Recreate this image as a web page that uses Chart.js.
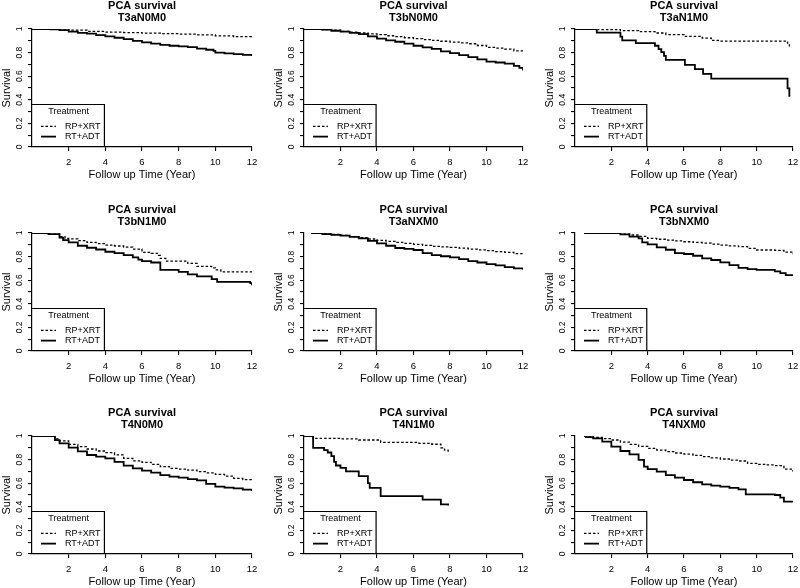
<!DOCTYPE html>
<html>
<head>
<meta charset="utf-8">
<script src="https://cdn.jsdelivr.net/npm/chart.js@4.4.0/dist/chart.umd.min.js"></script>
<style>
  html, body { margin: 0; padding: 0; background: #fff; overflow: hidden; }
  body { width: 800px; height: 588px; position: relative; }
  canvas { position: absolute; }
</style>
</head>
<body>
<script>
// panel names, in reading order (3 x 3)
const panelNames = ['T3aN0M0', 'T3bN0M0', 'T3aN1M0',
                    'T3bN1M0', 'T3aNXM0', 'T3bNXM0',
                    'T4N0M0', 'T4N1M0', 'T4NXM0'];
const seriesLabels = ['RP+XRT', 'RT+ADT'];
const xTicks = [2, 4, 6, 8, 10, 12];
const yTickMarks = [0, 0.1, 0.2, 0.3, 0.4, 0.5, 0.6, 0.7, 0.8, 0.9, 1];
const yTickValues = [0, 0.2, 0.4, 0.6, 0.8, 1];
const yTickLabels = ['0', '0.2', '0.4', '0.6', '0.8', '1'];

// Kaplan-Meier curves as [time, survival] step points
const T3aN0M0_RP = [[0,1],[1.5,1],[2,0.99],[3,0.98],[4,0.974],[5,0.97],[6,0.965],[7,0.96],[8,0.956],[9,0.95],[10,0.942],[11,0.935],[12,0.93]];
const T3aN0M0_RT = [[0,1],[1,0.997],[1.5,0.99],[2,0.978],[2.5,0.968],[3,0.96],[3.5,0.948],[4,0.937],[4.5,0.926],[5,0.915],[5.5,0.9],[6,0.886],[6.5,0.876],[7,0.866],[7.5,0.858],[8,0.852],[8.5,0.847],[9,0.834],[9.5,0.824],[9.9,0.815],[10,0.8],[10.5,0.793],[11,0.787],[11.5,0.78],[12,0.772]];

const T3bN0M0_RP = [[0,1],[1,0.995],[1.5,0.99],[2,0.98],[2.5,0.973],[3,0.966],[3.5,0.959],[4,0.952],[4.5,0.943],[5,0.935],[5.5,0.926],[6,0.918],[6.5,0.91],[7,0.903],[7.5,0.896],[8,0.889],[8.5,0.882],[9,0.875],[9.5,0.86],[10,0.844],[10.5,0.838],[11,0.83],[11.5,0.815],[12,0.795]];
const T3bN0M0_RT = [[0,1],[1,0.994],[1.5,0.985],[2,0.977],[2.5,0.968],[3,0.957],[3.5,0.938],[4,0.918],[4.5,0.904],[5,0.892],[5.5,0.876],[6,0.858],[6.5,0.845],[7,0.832],[7.5,0.81],[8,0.795],[8.5,0.778],[9,0.761],[9.5,0.742],[10,0.724],[10.5,0.716],[11,0.707],[11.5,0.687],[11.8,0.67],[12,0.648]];

const T3aN1M0_RP = [[0,1],[1.2,1],[1.3,0.995],[2.5,0.986],[3.5,0.977],[4.4,0.966],[5,0.952],[6,0.938],[7,0.923],[7.5,0.903],[8,0.898],[11.6,0.898],[11.7,0.88],[11.8,0.852]];
const T3aN1M0_RT = [[0,1],[1.2,0.97],[2.5,0.935],[2.6,0.903],[3.35,0.88],[4.4,0.858],[4.6,0.83],[4.75,0.804],[4.9,0.773],[5,0.739],[6.05,0.696],[6.6,0.66],[7.05,0.619],[7.5,0.58],[11.7,0.497],[11.8,0.426]];

const T3bN1M0_RP = [[0,1],[0.9,0.99],[1.5,0.97],[1.8,0.955],[2,0.95],[2.5,0.935],[3,0.92],[3.5,0.91],[4,0.898],[4.5,0.89],[5,0.88],[5.5,0.864],[6,0.836],[6.5,0.827],[6.9,0.81],[7,0.785],[7.3,0.762],[8.5,0.742],[9,0.717],[9.8,0.705],[10,0.688],[10.3,0.671],[12,0.671]];
const T3bN1M0_RT = [[0,1],[0.9,0.99],[1.5,0.96],[1.7,0.94],[2,0.92],[2.5,0.892],[3,0.875],[3.5,0.86],[4,0.841],[4.5,0.83],[5,0.813],[5.5,0.793],[5.8,0.775],[6,0.762],[6.5,0.75],[7,0.688],[8,0.671],[8.5,0.649],[9,0.632],[9.8,0.609],[10.1,0.586],[11.9,0.575],[12,0.558]];

const T3aNXM0_RP = [[0.4,1],[1,0.994],[1.5,0.988],[2,0.98],[2.5,0.97],[3,0.96],[3.5,0.949],[4,0.938],[4.5,0.929],[5,0.92],[5.5,0.912],[6,0.904],[6.5,0.895],[7,0.887],[7.5,0.882],[8,0.878],[8.5,0.871],[9,0.864],[9.5,0.857],[10,0.85],[10.5,0.843],[11,0.836],[11.5,0.825],[12,0.813]];
const T3aNXM0_RT = [[0.4,1],[1,0.99],[1.5,0.984],[2,0.977],[2.5,0.967],[3,0.955],[3.5,0.934],[4,0.912],[4.5,0.892],[5,0.873],[5.5,0.866],[6,0.856],[6.5,0.83],[7,0.813],[7.5,0.803],[8,0.793],[8.5,0.778],[9,0.762],[9.5,0.75],[10,0.737],[10.5,0.725],[11,0.711],[11.5,0.7],[12,0.688]];

const T3bNXM0_RP = [[0.5,1],[2,1],[2.5,0.99],[3,0.983],[3.5,0.972],[4,0.955],[4.5,0.947],[5,0.94],[5.5,0.933],[6,0.926],[6.5,0.92],[7,0.915],[7.5,0.906],[8,0.898],[8.5,0.891],[9,0.884],[9.5,0.87],[10,0.856],[11,0.853],[11.5,0.838],[12,0.819]];
const T3bNXM0_RT = [[0.5,1],[2,1],[2.5,0.989],[3,0.969],[3.5,0.955],[3.7,0.92],[4,0.904],[4.5,0.878],[5,0.858],[5.5,0.83],[6,0.822],[6.5,0.807],[7,0.785],[7.5,0.771],[8,0.751],[8.5,0.728],[9,0.705],[9.5,0.694],[10,0.688],[11,0.674],[11.3,0.66],[11.6,0.643],[12,0.637]];

const T4N0M0_RP = [[0,1],[1,1],[1.25,0.975],[1.5,0.958],[2,0.929],[2.5,0.91],[3,0.89],[3.5,0.873],[4,0.859],[4.5,0.84],[5,0.811],[5.5,0.79],[6,0.777],[6.5,0.76],[7,0.74],[7.5,0.725],[8,0.72],[8.5,0.71],[9,0.698],[9.5,0.688],[10,0.675],[10.5,0.66],[11,0.641],[11.5,0.63],[12,0.619]];
const T4N0M0_RT = [[0,1],[1,1],[1.25,0.965],[1.5,0.938],[2,0.901],[2.5,0.87],[3,0.839],[3.5,0.825],[4,0.811],[4.5,0.78],[5,0.749],[5.5,0.725],[6,0.706],[6.5,0.69],[7,0.669],[7.5,0.655],[8,0.647],[8.5,0.635],[9,0.624],[9.5,0.595],[10,0.571],[10.5,0.563],[11,0.556],[11.5,0.545],[12,0.534]];

const T4N1M0_RP = [[0,1],[0.5,0.98],[2,0.975],[3,0.966],[4.2,0.946],[6.3,0.938],[7,0.93],[7.5,0.9],[7.7,0.88],[7.9,0.86]];
const T4N1M0_RT = [[0,1],[0.5,0.9],[1.1,0.88],[1.3,0.86],[1.5,0.83],[1.65,0.78],[1.75,0.75],[2,0.73],[2.3,0.7],[3,0.66],[3.5,0.6],[3.6,0.56],[4.2,0.49],[6.5,0.46],[7.5,0.42],[7.9,0.41]];

const T4NXM0_RP = [[0.5,1],[1,0.989],[1.5,0.978],[2,0.966],[2.5,0.948],[3,0.929],[3.5,0.912],[4,0.895],[4.5,0.88],[5,0.867],[5.5,0.856],[6,0.847],[6.5,0.835],[7,0.825],[7.5,0.815],[8,0.805],[8.5,0.795],[9,0.788],[9.5,0.768],[10,0.76],[10.5,0.755],[11,0.749],[11.5,0.72],[12,0.698]];
const T4NXM0_RT = [[0.5,1],[0.6,0.99],[1,0.98],[1.5,0.952],[2,0.91],[2.5,0.873],[3,0.845],[3.5,0.797],[3.8,0.74],[4,0.72],[4.5,0.698],[5,0.669],[5.5,0.648],[6,0.627],[6.5,0.608],[7,0.59],[7.5,0.58],[8,0.571],[8.5,0.56],[9,0.548],[9.4,0.506],[11,0.5],[11.3,0.477],[11.5,0.444],[12,0.444]];

const curvesRP = [T3aN0M0_RP, T3bN0M0_RP, T3aN1M0_RP, T3bN1M0_RP, T3aNXM0_RP, T3bNXM0_RP, T4N0M0_RP, T4N1M0_RP, T4NXM0_RP];
const curvesRT = [T3aN0M0_RT, T3bN0M0_RT, T3aN1M0_RT, T3bN1M0_RT, T3aNXM0_RT, T3bNXM0_RT, T4N0M0_RT, T4N1M0_RT, T4NXM0_RT];

// where each plot area sits on the page
const colLeft = [32, 304, 575];
const colWidth = [220, 219, 218];
const rowTop = [29, 233, 436];
const plotH = 118;
const canvasW = 266, canvasH = 196;
const marginLeft = 32, marginTop = 29;

const FONT = '"Liberation Sans", Arial, Helvetica, sans-serif';
Chart.defaults.font.family = FONT;
Chart.defaults.color = '#000';

// rotated y tick labels (R style) and the boxed legend in the lower left
const survivalDecor = {
    id: 'survivalDecor',
    afterDraw(chart) {
        const ctx = chart.ctx;
        const xs = chart.scales.x, ys = chart.scales.y;
        const area = chart.chartArea;
        ctx.save();
        ctx.fillStyle = '#000';
        ctx.font = '8.5px ' + FONT;
        ctx.textAlign = 'center';
        ctx.textBaseline = 'middle';
        yTickValues.forEach((v, i) => {
            ctx.save();
            ctx.translate(area.left - 12.5, ys.getPixelForValue(v));
            ctx.rotate(-Math.PI / 2);
            ctx.fillText(yTickLabels[i], 0, 0);
            ctx.restore();
        });

        // legend box
        const bl = xs.getPixelForValue(0), br = xs.getPixelForValue(3.95);
        const bt = ys.getPixelForValue(0.36), bb = ys.getPixelForValue(0);
        ctx.strokeStyle = '#000';
        ctx.lineWidth = 1.2;
        ctx.beginPath();
        ctx.moveTo(bl, bt);
        ctx.lineTo(br, bt);
        ctx.lineTo(br, bb);
        ctx.stroke();

        ctx.font = '9px ' + FONT;
        ctx.fillText('Treatment', xs.getPixelForValue(2), ys.getPixelForValue(0.3));
        const rows = [ys.getPixelForValue(0.175), ys.getPixelForValue(0.088)];
        ctx.textAlign = 'left';
        rows.forEach((y, i) => {
            ctx.beginPath();
            ctx.setLineDash(i === 0 ? [2.5, 2] : []);
            ctx.lineWidth = i === 0 ? 1.3 : 1.8;
            ctx.moveTo(bl + 9, y);
            ctx.lineTo(bl + 24, y);
            ctx.stroke();
            ctx.fillText(seriesLabels[i], bl + 33, y);
        });
        ctx.restore();
    }
};

panelNames.forEach((name, idx) => {
    const row = Math.floor(idx / 3), col = idx % 3;
    const canvas = document.createElement('canvas');
    canvas.width = canvasW;
    canvas.height = canvasH;
    canvas.style.left = (colLeft[col] - marginLeft) + 'px';
    canvas.style.top = (rowTop[row] - marginTop) + 'px';
    document.body.appendChild(canvas);

    const toXY = pts => pts.map(p => ({ x: p[0], y: p[1] }));

    new Chart(canvas.getContext('2d'), {
        type: 'line',
        data: {
            datasets: [{
                label: seriesLabels[0],
                data: toXY(curvesRP[idx]),
                borderColor: '#000',
                borderWidth: 1.3,
                borderDash: [2.5, 2],
                stepped: true,
                pointRadius: 0,
                fill: false
            }, {
                label: seriesLabels[1],
                data: toXY(curvesRT[idx]),
                borderColor: '#000',
                borderWidth: 1.8,
                stepped: true,
                pointRadius: 0,
                fill: false
            }]
        },
        options: {
            responsive: false,
            animation: false,
            layout: {
                padding: { left: 0, top: 0, bottom: 0, right: canvasW - marginLeft - colWidth[col] }
            },
            plugins: {
                legend: { display: false },
                tooltip: { enabled: false },
                title: {
                    display: true,
                    fullSize: false,
                    text: ['PCA survival', name],
                    color: '#000',
                    font: { size: 11, weight: 'bold', lineHeight: 1.1 },
                    padding: { top: 0, bottom: 4.8 }
                }
            },
            scales: {
                x: {
                    type: 'linear',
                    min: 0,
                    max: 12,
                    afterBuildTicks: s => { s.ticks = xTicks.map(v => ({ value: v })); },
                    afterFit: s => { s.height = canvasH - marginTop - plotH; },
                    grid: { drawOnChartArea: false, drawTicks: true, tickLength: 4, color: '#000', lineWidth: 1.1 },
                    border: { display: true, color: '#000', width: 1.2 },
                    ticks: { font: { size: 9.5 }, color: '#000', padding: 6, maxRotation: 0 },
                    title: {
                        display: true,
                        text: 'Follow up Time (Year)',
                        color: '#000',
                        font: { size: 11, lineHeight: 1.2 },
                        padding: { top: 0, bottom: 14 }
                    }
                },
                y: {
                    type: 'linear',
                    min: 0,
                    max: 1,
                    afterBuildTicks: s => { s.ticks = yTickMarks.map(v => ({ value: v })); },
                    afterFit: s => { s.width = marginLeft; },
                    grid: { drawOnChartArea: false, drawTicks: true, tickLength: 4, color: '#000', lineWidth: 1.1 },
                    border: { display: true, color: '#000', width: 1.2 },
                    ticks: { display: false },
                    title: {
                        display: true,
                        text: 'Survival',
                        color: '#000',
                        font: { size: 11, lineHeight: 1.2 },
                        padding: { top: 0.4, bottom: 0 }
                    }
                }
            }
        },
        plugins: [survivalDecor]
    });
});
</script>
</body>
</html>
